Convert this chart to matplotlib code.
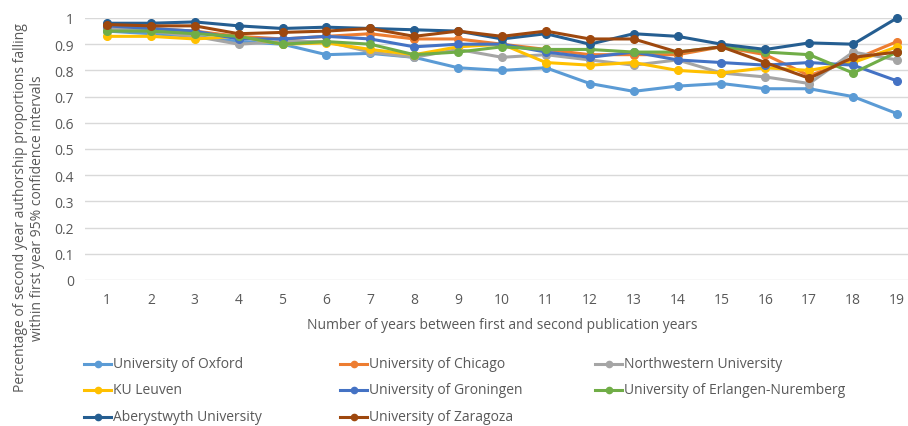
import matplotlib
matplotlib.use("Agg")
import matplotlib.pyplot as plt
from matplotlib.lines import Line2D

plt.rcParams["font.family"] = ["Open Sans", "DejaVu Sans"]

years = list(range(1, 20))

oxford = [0.95, 0.94, 0.93, 0.91, 0.90, 0.86, 0.865, 0.85, 0.81, 0.80,
          0.81, 0.75, 0.72, 0.74, 0.75, 0.73, 0.73, 0.70, 0.635]
chicago = [0.97, 0.96, 0.95, 0.93, 0.92, 0.93, 0.94, 0.92, 0.92, 0.90,
           0.88, 0.86, 0.86, 0.86, 0.89, 0.86, 0.78, 0.84, 0.91]
northwestern = [0.96, 0.95, 0.93, 0.90, 0.91, 0.91, 0.87, 0.85, 0.88, 0.85,
                0.86, 0.84, 0.82, 0.84, 0.79, 0.775, 0.75, 0.87, 0.84]
leuven = [0.93, 0.93, 0.92, 0.93, 0.90, 0.905, 0.88, 0.86, 0.89, 0.90,
          0.83, 0.82, 0.83, 0.80, 0.79, 0.81, 0.80, 0.83, 0.89]
groningen = [0.97, 0.96, 0.95, 0.92, 0.92, 0.93, 0.92, 0.89, 0.90, 0.90,
             0.87, 0.85, 0.87, 0.84, 0.83, 0.82, 0.83, 0.82, 0.76]
erlangen = [0.95, 0.95, 0.94, 0.93, 0.90, 0.91, 0.90, 0.86, 0.87, 0.89,
            0.88, 0.88, 0.87, 0.87, 0.89, 0.87, 0.86, 0.79, 0.87]
aberystwyth = [0.98, 0.98, 0.985, 0.97, 0.96, 0.965, 0.96, 0.955, 0.95, 0.92,
               0.94, 0.90, 0.94, 0.93, 0.90, 0.88, 0.905, 0.90, 1.00]
zaragoza = [0.975, 0.97, 0.97, 0.94, 0.945, 0.95, 0.96, 0.93, 0.95, 0.93,
            0.95, 0.92, 0.92, 0.87, 0.89, 0.83, 0.77, 0.85, 0.87]

series = [
    ("University of Oxford", oxford, "#5B9BD5"),
    ("University of Chicago", chicago, "#ED7D31"),
    ("Northwestern University", northwestern, "#A5A5A5"),
    ("KU Leuven", leuven, "#FFC000"),
    ("University of Groningen", groningen, "#4472C4"),
    ("University of Erlangen-Nuremberg", erlangen, "#70AD47"),
    ("Aberystwyth University", aberystwyth, "#255E91"),
    ("University of Zaragoza", zaragoza, "#9E480E"),
]

TEXT = "#595959"
W, H = 908, 427

fig = plt.figure(figsize=(W / 100, H / 100), dpi=100)
ax = fig.add_axes([85 / W, (H - 281) / H, (908 - 85) / W, (281 - 19) / H])

for name, vals, col in series:
    ax.plot(years, vals, color=col, lw=2.2, marker="o", ms=5.5, clip_on=False,
            label=name, zorder=3)

ax.set_xlim(0.5, 19.25)
ax.set_ylim(0, 1)
ax.set_xticks(years)
ax.set_yticks([i / 10 for i in range(11)])
ax.set_yticklabels(["0"] + [f"{i / 10:.1f}" for i in range(1, 10)] + ["1"])
ax.tick_params(length=0, labelsize=10, colors=TEXT, pad=8)
ax.tick_params(axis="x", pad=9)
ax.grid(axis="y", color="#D9D9D9", lw=1)
ax.set_axisbelow(True)
for s in ax.spines.values():
    s.set_visible(False)

fig.text(502 / W, 1 - 326 / H, "Number of years between first and second publication years",
         ha="center", va="center", fontsize=10, color=TEXT)
fig.text(29 / W, 1 - 208 / H,
         "Percentage of second year authorship proportions falling\n"
         "within first year 95% confidence intervals",
         ha="center", va="center", rotation=90, fontsize=10, color=TEXT,
         linespacing=1.25)

# legend laid out row-wise, like the original
col_x = [84, 340, 595]
row_y = [365, 391, 418]
for i, (name, vals, col) in enumerate(series):
    cx = col_x[i % 3]
    cy = row_y[i // 3]
    fig.add_artist(Line2D([cx / W, (cx + 27) / W], [1 - cy / H, 1 - cy / H],
                          color=col, lw=2.2, transform=fig.transFigure))
    fig.add_artist(Line2D([(cx + 13.5) / W], [1 - cy / H], color=col, marker="o",
                          ms=4.5, transform=fig.transFigure))
    fig.text((cx + 29) / W, 1 - cy / H, name, ha="left", va="center",
             fontsize=10, color=TEXT)

fig.savefig("out.png", dpi=100)
